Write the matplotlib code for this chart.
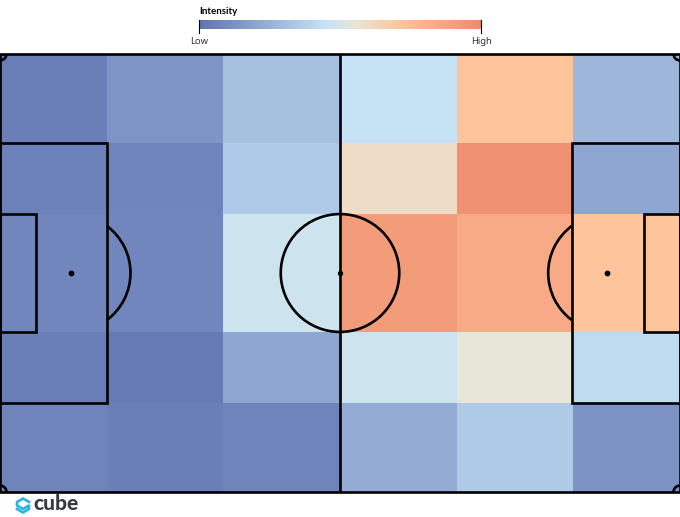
import numpy as np
import matplotlib
matplotlib.use('Agg')
import matplotlib.pyplot as plt
from matplotlib.colors import LinearSegmentedColormap
from matplotlib.patches import Arc, Circle, Rectangle

plt.rcParams['font.family'] = ['Noto Sans', 'DejaVu Sans']

W, H = 680, 517
PITCH_L, PITCH_W = 105, 68

x_edges = [0, 16.5, 34.5, 52.5, 70.5, 88.5, 105]
y_edges = [0, 13.84, 24.84, 43.16, 54.16, 68]

# intensity per zone, top row first
row1 = [0.045, 0.135, 0.31, 0.45, 0.72, 0.27]
row2 = [0.055, 0.07, 0.35, 0.60, 0.97, 0.21]
row3 = [0.075, 0.075, 0.47, 0.92, 0.85, 0.72]
row4 = [0.045, 0.03, 0.21, 0.47, 0.55, 0.42]
row5 = [0.07, 0.045, 0.07, 0.23, 0.35, 0.13]
intensity = np.array([row1, row2, row3, row4, row5])

cmap_stops = [(0.0, '#6073b1'), (0.45, '#c6e3f5'), (0.55, '#e8e6d9'),
              (0.72, '#fec49b'), (1.0, '#ee8c6c')]
cmap = LinearSegmentedColormap.from_list('intensity', cmap_stops)

fig = plt.figure(figsize=(W / 100, H / 100), dpi=100)

# pitch
ax = fig.add_axes([0, (H - 492) / H, 1, (492 - 54) / H])
ax.pcolormesh(x_edges, y_edges, intensity, cmap=cmap, vmin=0, vmax=1)
ax.set_xlim(0, PITCH_L)
ax.set_ylim(PITCH_W, 0)
ax.axis('off')

lw = 1.9
line = dict(fill=False, ec='black', lw=lw, zorder=3)
mid_y = PITCH_W / 2

ax.add_patch(Rectangle((0, 0), PITCH_L, PITCH_W, clip_on=False, **line))
ax.plot([52.5, 52.5], [0, PITCH_W], color='black', lw=lw, zorder=3)
ax.add_patch(Circle((52.5, mid_y), 9.15, **line))

# left end
ax.add_patch(Rectangle((0, mid_y - 20.16), 16.5, 40.32, **line))
ax.add_patch(Rectangle((0, mid_y - 9.16), 5.6, 18.32, **line))
ax.add_patch(Arc((11, mid_y), 18.3, 18.3, theta1=-53, theta2=53, ec='black', lw=lw, zorder=3))
ax.scatter([11], [mid_y], s=10, color='black', zorder=4)

# right end
ax.add_patch(Rectangle((88.4, mid_y - 20.16), 16.6, 40.32, **line))
ax.add_patch(Rectangle((99.4, mid_y - 9.16), 5.6, 18.32, **line))
ax.add_patch(Arc((93.8, mid_y), 18.3, 18.3, theta1=127, theta2=233, ec='black', lw=lw, zorder=3))
ax.scatter([93.8], [mid_y], s=10, color='black', zorder=4)

ax.scatter([52.5], [mid_y], s=8, color='black', zorder=4)

# corners
ax.add_patch(Arc((0, 0), 2, 2, theta1=0, theta2=90, ec='black', lw=lw, zorder=3))
ax.add_patch(Arc((PITCH_L, 0), 2, 2, theta1=90, theta2=180, ec='black', lw=lw, zorder=3))
ax.add_patch(Arc((0, PITCH_W), 2, 2, theta1=270, theta2=360, ec='black', lw=lw, zorder=3))
ax.add_patch(Arc((PITCH_L, PITCH_W), 2, 2, theta1=180, theta2=270, ec='black', lw=lw, zorder=3))

# legend bar
cax = fig.add_axes([199 / W, (H - 29) / H, 282 / W, 9 / H])
cax.imshow(np.linspace(0, 1, 256).reshape(1, -1), cmap=cmap, aspect='auto', extent=[0, 1, 0, 1])
cax.axis('off')

fig.text(199 / W, (H - 12) / H, 'Intensity', family='Lato', fontsize=7, fontweight='bold', va='center', ha='left')
fig.text(199 / W, (H - 42) / H, 'Low', fontsize=6.8, color='#333333', va='center', ha='center')
fig.text(481 / W, (H - 42) / H, 'High', fontsize=6.8, color='#333333', va='center', ha='center')
for px in [199, 481]:
    fig.add_artist(plt.Line2D([px / W, px / W], [(H - 33) / H, (H - 20) / H], color='black', lw=0.8))

# logo
logo = fig.add_axes([0, 0, 1, 1], facecolor='none')
logo.set_xlim(0, W)
logo.set_ylim(H, 0)
logo.axis('off')
logo.plot([29, 23, 17, 17, 23, 29, 29, 23, 17], [502, 498.5, 502, 505.5, 509, 505.5, 509, 512.5, 509],
          color='#2bb3e3', lw=1.9, solid_joinstyle='round')
logo.text(33, 504, 'cube', family='Lato', fontsize=15, fontweight='black', color='#333a40', va='center', ha='left')

fig.savefig('out.png', dpi=100)
